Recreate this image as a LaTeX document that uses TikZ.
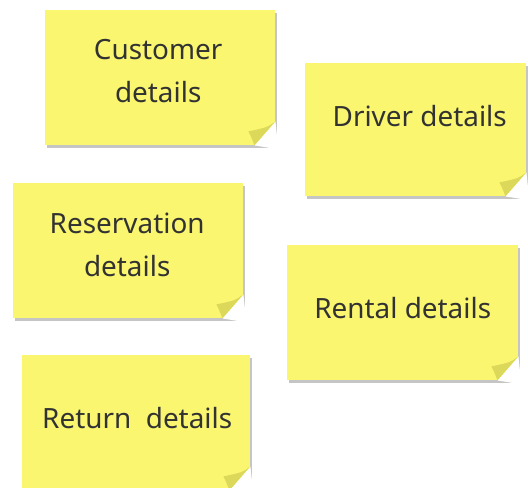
\documentclass[tikz,border=0pt]{standalone}
\usepackage{fontspec}
\setmainfont{Noto Sans}
\usetikzlibrary{shadows}
\definecolor{notey}{RGB}{250,246,112}
\definecolor{flapy}{RGB}{220,216,90}
\definecolor{inkg}{RGB}{50,50,50}

\tikzset{
  note/.style={rectangle, fill=notey, inner sep=0pt, anchor=north west,
    drop shadow={shadow xshift=2pt, shadow yshift=-3pt, fill=black!45, opacity=0.5}},
  notetext/.style={text=inkg, font=\fontsize{28}{43}\selectfont, align=center}
}

\begin{document}
\begin{tikzpicture}[x=1bp,y=-1bp]
  \clip (0,0) rectangle (528,488);
  \fill[white] (0,0) rectangle (528,488);

  \node[note, minimum width=230bp, minimum height=135bp] (cust)   at (45,10)  {};
  \node[note, minimum width=221bp, minimum height=133bp] (driver) at (305,63) {};
  \node[note, minimum width=230bp, minimum height=135bp] (resv)   at (13,183) {};
  \node[note, minimum width=231bp, minimum height=135bp] (rental) at (287,245) {};
  \node[note, minimum width=228bp, minimum height=135bp] (ret)    at (22,355) {};

  \node[notetext] (custtext)   at ([xshift=-2bp, yshift=7bp]cust.center) {Customer\\details};
  \node[notetext] (drivertext) at ([xshift=4bp, yshift=14bp]driver.center) {Driver details};
  \node[notetext] (resvtext)   at ([xshift=-1bp, yshift=6bp]resv.center) {Reservation\\details};
  \node[notetext] (rentaltext) at ([yshift=5bp]rental.center) {Rental details};
  \node[notetext] (rettext)    at ([xshift=1bp, yshift=5bp]ret.center) {Return\ \ details};

  \foreach \n in {cust,driver,resv,rental,ret}{
    \fill[white] ([yshift=24bp]\n.south east) -- ([xshift=3bp,yshift=-4bp]\n.south east)
      -- ([xshift=-21bp]\n.south east) -- cycle;
    \fill[flapy] ([yshift=24bp]\n.south east)
      .. controls ([xshift=-8bp,yshift=18bp]\n.south east) .. ([xshift=-27bp,yshift=14bp]\n.south east)
      .. controls ([xshift=-24bp,yshift=8bp]\n.south east) .. ([xshift=-21bp]\n.south east) -- cycle;
  }
\end{tikzpicture}
\end{document}
